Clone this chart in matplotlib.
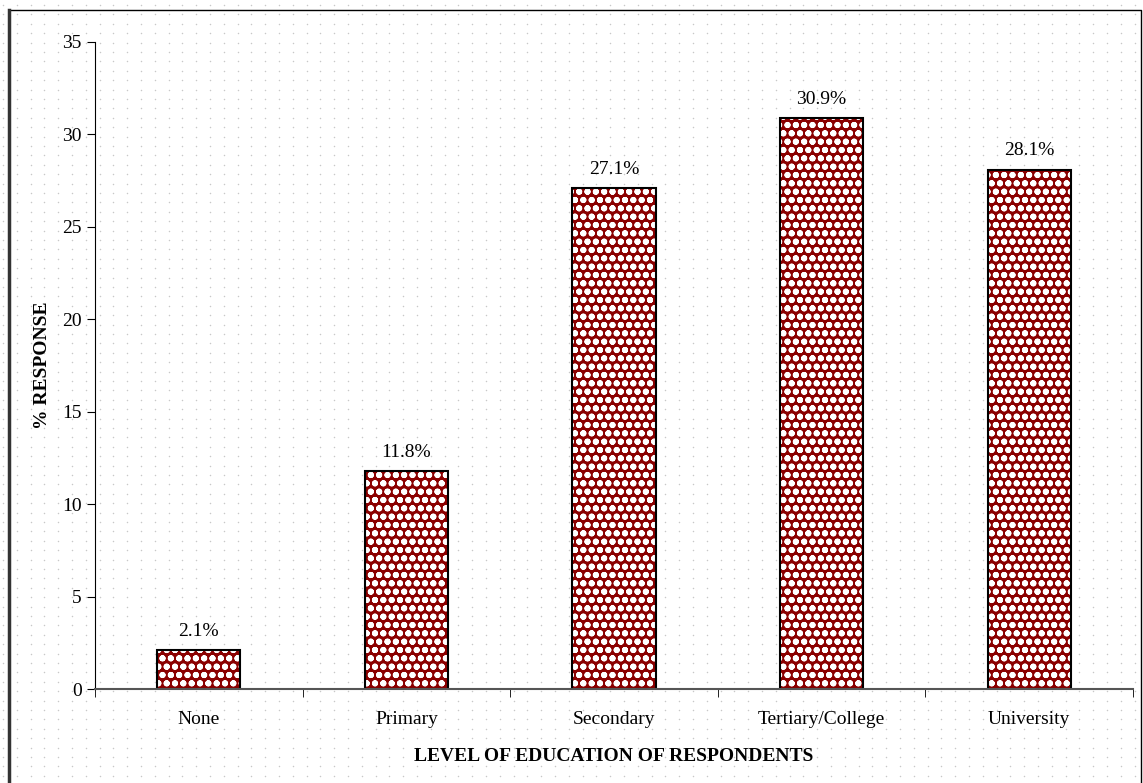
import numpy as np
import matplotlib.pyplot as plt

plt.rcParams['font.family'] = ['Liberation Serif', 'DejaVu Serif']
plt.rcParams['hatch.linewidth'] = 2.0

categories = ['None', 'Primary', 'Secondary', 'Tertiary/College', 'University']
values = [2.1, 11.8, 27.1, 30.9, 28.1]
labels = ['2.1%', '11.8%', '27.1%', '30.9%', '28.1%']

fig = plt.figure(figsize=(11.43, 7.83), dpi=100)

# dotted background over the whole figure
bg = fig.add_axes([0, 0, 1, 1], zorder=-10)
bg.set_xlim(0, 1143)
bg.set_ylim(783, 0)
gx, gy = np.meshgrid(np.arange(3, 1143, 13.8), np.arange(5, 783, 9.4))
bg.scatter(gx.ravel(), gy.ravel(), s=1.2, color='#c8c8c8', linewidths=0)
bg.plot([9, 9, 1141, 1141], [783, 10, 10, 783], color='black', lw=1)
bg.plot([9, 9], [10, 783], color='#333333', lw=2.5)
bg.axis('off')

ax = fig.add_axes([95 / 1143, 1 - 689 / 783, (1133 - 95) / 1143, (689 - 42) / 783])
ax.patch.set_alpha(0)

x = np.arange(len(categories))
ax.bar(x, values, width=0.4, color='#8b0000', edgecolor='white', hatch='oo', linewidth=0)
ax.bar(x, values, width=0.4, facecolor='none', edgecolor='black', linewidth=1.5)

for xi, v, t in zip(x, values, labels):
    ax.text(xi, v + 0.55, t, ha='center', va='bottom', fontsize=14)

ax.set_xlim(-0.5, len(categories) - 0.5)
ax.set_ylim(0, 35)
ax.set_yticks(np.arange(0, 36, 5))
ax.set_xticks(x)
ax.set_xticklabels(categories, fontsize=14)
ax.set_xticks(np.arange(-0.5, len(categories), 1), minor=True)
ax.tick_params(axis='x', which='major', length=0, pad=16)
ax.tick_params(axis='x', which='minor', length=6, direction='out')
ax.tick_params(axis='y', labelsize=14, length=6, direction='out')

for s in ['top', 'right']:
    ax.spines[s].set_visible(False)
ax.spines['bottom'].set_color('#555555')
ax.spines['bottom'].set_linewidth(1.5)

ax.set_xlabel('LEVEL OF EDUCATION OF RESPONDENTS', fontsize=14, fontweight='bold', labelpad=14)
ax.set_ylabel('% RESPONSE', fontsize=14, fontweight='bold', labelpad=8)

fig.savefig('out.png', dpi=100)
